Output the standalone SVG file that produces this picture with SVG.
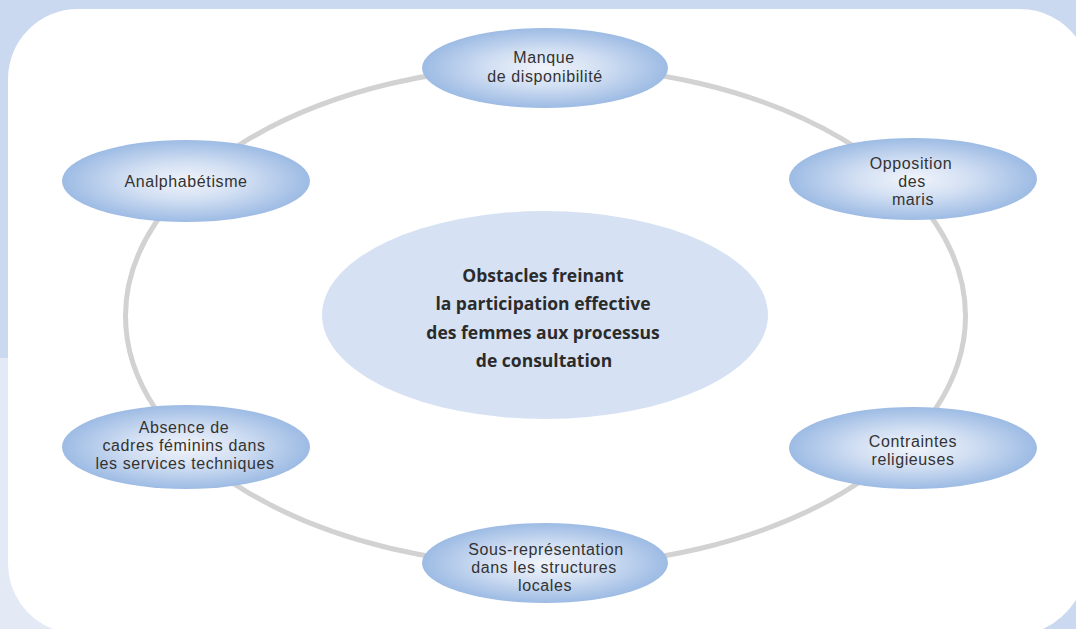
<svg xmlns="http://www.w3.org/2000/svg" width="1076" height="629" viewBox="0 0 1076 629">
  <defs>
    <radialGradient id="nodeFill" cx="0.5" cy="0.5" r="0.5">
      <stop offset="0" stop-color="#f1f4fb"/>
      <stop offset="0.45" stop-color="#d3e0f3"/>
      <stop offset="1" stop-color="#9dbbe4"/>
    </radialGradient>
    <style>
      .node { fill: url(#nodeFill); }
      .lbl { font-family: "Liberation Sans", Arial, sans-serif; font-size: 16px; letter-spacing: 0.6px; fill: #333333; text-anchor: middle; }
      .title { font-family: "Open Sans", "Noto Sans", sans-serif; font-size: 17.5px; font-weight: bold; fill: #2b2b2b; text-anchor: middle; }
      .ring { fill: none; stroke: #d2d2d2; stroke-width: 5; }
    </style>
  </defs>

  <!-- page background and white panel -->
  <rect x="0" y="0" width="1076" height="629" fill="#cad9ef"/>
  <rect x="0" y="358" width="120" height="271" fill="#e3eaf5"/>
  <path d="M8,79 A70,70 0 0 1 78,9 L1020,9 A70,70 0 0 1 1076,37 L1076,600 A80,80 0 0 1 1043,629 L53,629 A70,70 0 0 1 8,564 Z" fill="#ffffff"/>

  <!-- connectors: the ring joining the obstacles -->
  <g id="connectors">
    <ellipse class="ring" cx="545.5" cy="316" rx="420" ry="250"/>
  </g>

  <g id="center">
    <ellipse cx="545" cy="315" rx="223" ry="104" fill="#d6e2f3"/>
    <text class="title" x="543" y="282">Obstacles freinant</text>
    <text class="title" x="543" y="310">la participation effective</text>
    <text class="title" x="543" y="339">des femmes aux processus</text>
    <text class="title" x="544" y="367">de consultation</text>
  </g>

  <g id="disponibilite">
    <ellipse class="node" cx="545" cy="68" rx="123" ry="40"/>
    <text class="lbl" x="544" y="63">Manque</text>
    <text class="lbl" x="545" y="82">de disponibilité</text>
  </g>

  <g id="analphabetisme">
    <ellipse class="node" cx="186" cy="181" rx="124" ry="41"/>
    <text class="lbl" x="186" y="187">Analphabétisme</text>
  </g>

  <g id="opposition">
    <ellipse class="node" cx="913" cy="179" rx="124" ry="41"/>
    <text class="lbl" x="911" y="169">Opposition</text>
    <text class="lbl" x="912" y="187">des</text>
    <text class="lbl" x="913" y="205">maris</text>
  </g>

  <g id="cadres">
    <ellipse class="node" cx="186" cy="447" rx="124" ry="42"/>
    <text class="lbl" x="184" y="433">Absence de</text>
    <text class="lbl" x="184" y="451">cadres féminins dans</text>
    <text class="lbl" x="185" y="469">les services techniques</text>
  </g>

  <g id="religion">
    <ellipse class="node" cx="913" cy="448" rx="124" ry="41"/>
    <text class="lbl" x="913" y="447">Contraintes</text>
    <text class="lbl" x="913" y="465">religieuses</text>
  </g>

  <g id="representation">
    <ellipse class="node" cx="545" cy="563" rx="123" ry="40"/>
    <text class="lbl" x="546" y="555">Sous-représentation</text>
    <text class="lbl" x="544" y="573">dans les structures</text>
    <text class="lbl" x="545" y="591">locales</text>
  </g>
</svg>
